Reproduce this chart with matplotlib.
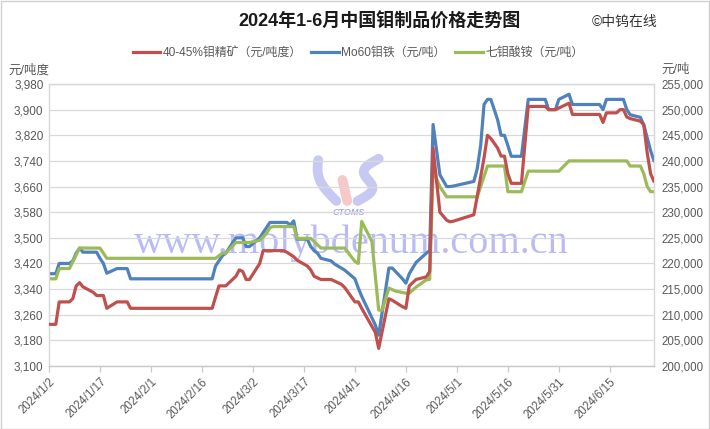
import matplotlib
matplotlib.use("Agg")
import matplotlib.pyplot as plt
import pandas as pd
import numpy as np
from matplotlib.lines import Line2D

# ---------------- data ----------------
red_dates = ["2024-01-02", "2024-01-04", "2024-01-05", "2024-01-08", "2024-01-09", "2024-01-10",
             "2024-01-11", "2024-01-12", "2024-01-15", "2024-01-16", "2024-01-18", "2024-01-19",
             "2024-01-22", "2024-01-25", "2024-01-26",
             "2024-02-19", "2024-02-21", "2024-02-23", "2024-02-26", "2024-02-27", "2024-02-28",
             "2024-02-29",
             "2024-03-01", "2024-03-04", "2024-03-05", "2024-03-11", "2024-03-12", "2024-03-14",
             "2024-03-15", "2024-03-18", "2024-03-19", "2024-03-20", "2024-03-21", "2024-03-22",
             "2024-03-25", "2024-03-26", "2024-03-27", "2024-03-28", "2024-03-29",
             "2024-04-01", "2024-04-02", "2024-04-03", "2024-04-07", "2024-04-08", "2024-04-11",
             "2024-04-12", "2024-04-15", "2024-04-16", "2024-04-17", "2024-04-18", "2024-04-19",
             "2024-04-22", "2024-04-23", "2024-04-24", "2024-04-26", "2024-04-28", "2024-04-29",
             "2024-04-30",
             "2024-05-06", "2024-05-07", "2024-05-08", "2024-05-09", "2024-05-10", "2024-05-11",
             "2024-05-13", "2024-05-14", "2024-05-15", "2024-05-16", "2024-05-17", "2024-05-20",
             "2024-05-22", "2024-05-27", "2024-05-28", "2024-05-30", "2024-05-31",
             "2024-06-03", "2024-06-04", "2024-06-12", "2024-06-13", "2024-06-14", "2024-06-17",
             "2024-06-18", "2024-06-19", "2024-06-20", "2024-06-21", "2024-06-24", "2024-06-25",
             "2024-06-26", "2024-06-27", "2024-06-28"]
red_values = [3230, 3230, 3300, 3300, 3310, 3350,
              3360, 3347, 3330, 3320, 3320, 3280,
              3300, 3300, 3280,
              3280, 3350, 3350, 3380, 3400, 3395,
              3370,
              3370, 3420, 3460, 3460, 3455, 3441,
              3430, 3412, 3400, 3380, 3375, 3370,
              3370, 3365, 3360, 3355, 3345,
              3300, 3300, 3280, 3205, 3155, 3310,
              3305, 3285, 3280, 3350, 3360, 3370,
              3378, 3395, 3780, 3580, 3555, 3550,
              3552,
              3572, 3630, 3690, 3750, 3820, 3810,
              3780, 3755, 3755, 3700, 3670, 3670,
              3910, 3910, 3900, 3900, 3905,
              3920, 3885, 3885, 3860, 3890, 3890,
              3900, 3900, 3877, 3872, 3864, 3853,
              3765, 3700, 3676]

blue_dates = ["2024-01-02", "2024-01-04", "2024-01-05", "2024-01-08", "2024-01-09", "2024-01-10",
              "2024-01-11", "2024-01-12", "2024-01-16", "2024-01-17", "2024-01-18", "2024-01-19",
              "2024-01-22", "2024-01-25", "2024-01-26",
              "2024-02-19", "2024-02-20", "2024-02-22", "2024-02-23", "2024-02-26", "2024-02-28",
              "2024-02-29",
              "2024-03-01", "2024-03-04", "2024-03-05", "2024-03-06", "2024-03-07", "2024-03-12",
              "2024-03-13", "2024-03-14", "2024-03-15", "2024-03-18", "2024-03-19", "2024-03-20",
              "2024-03-21", "2024-03-22", "2024-03-25", "2024-03-26", "2024-03-27", "2024-03-28",
              "2024-03-29",
              "2024-04-01", "2024-04-02", "2024-04-03", "2024-04-07", "2024-04-08", "2024-04-11",
              "2024-04-12", "2024-04-15", "2024-04-16", "2024-04-17", "2024-04-18", "2024-04-19",
              "2024-04-22", "2024-04-23", "2024-04-24", "2024-04-26", "2024-04-28", "2024-04-29",
              "2024-04-30",
              "2024-05-06", "2024-05-07", "2024-05-08", "2024-05-09", "2024-05-10", "2024-05-11",
              "2024-05-13", "2024-05-14", "2024-05-15", "2024-05-16", "2024-05-17", "2024-05-20",
              "2024-05-22", "2024-05-27", "2024-05-28", "2024-05-30", "2024-05-31",
              "2024-06-03", "2024-06-04", "2024-06-12", "2024-06-13", "2024-06-14", "2024-06-19",
              "2024-06-20", "2024-06-21", "2024-06-24", "2024-06-25", "2024-06-26", "2024-06-27",
              "2024-06-28"]
blue_values = [218000, 218000, 220000, 220000, 220500, 222000,
               223000, 222200, 222200, 221000, 220000, 218100,
               219000, 219000, 217000,
               217000, 219500, 221500, 222000, 225000, 225000,
               223300,
               223300, 225000, 226000, 227000, 228000, 228000,
               227500, 228300, 224750, 224750, 223300, 222500,
               222000, 221000, 220500, 219900, 219500, 219100,
               218700,
               217000, 215200, 213600, 208000, 206000, 219100,
               219100, 217000, 216150, 218000, 219100, 220200,
               222000, 222500, 247100, 237300, 235000, 235000,
               235100,
               236000, 238500, 243000, 251000, 252000, 252000,
               248000, 245000, 245000, 243000, 240900, 240900,
               252000, 252000, 250000, 250000, 252000,
               253000, 251000, 251000, 250000, 252000, 252000,
               250000, 249000, 248500, 247000, 244500, 242000,
               240000]

green_dates = ["2024-01-02", "2024-01-04", "2024-01-05", "2024-01-08", "2024-01-11", "2024-01-17",
               "2024-01-19",
               "2024-02-20", "2024-02-21", "2024-02-22", "2024-02-23", "2024-02-26",
               "2024-03-01", "2024-03-04", "2024-03-06", "2024-03-07", "2024-03-08", "2024-03-14",
               "2024-03-15", "2024-03-19", "2024-03-22", "2024-03-29",
               "2024-04-01", "2024-04-02", "2024-04-03", "2024-04-06", "2024-04-08", "2024-04-09",
               "2024-04-11", "2024-04-13", "2024-04-16", "2024-04-17", "2024-04-19", "2024-04-22",
               "2024-04-23", "2024-04-24", "2024-04-26", "2024-04-28",
               "2024-05-07", "2024-05-10", "2024-05-15", "2024-05-16", "2024-05-20", "2024-05-22",
               "2024-05-31",
               "2024-06-03", "2024-06-20", "2024-06-21", "2024-06-24", "2024-06-25", "2024-06-26",
               "2024-06-27", "2024-06-28"]
green_values = [217000, 217000, 219000, 219000, 223000, 223000,
                221000,
                221000, 221500, 222000, 222000, 224100,
                224100, 224500, 225900, 227000, 227200, 227200,
                224900, 224900, 223000, 223000,
                220400, 220000, 228200, 224300, 210900, 210900,
                215200, 214600, 214200, 214200, 215400, 216800,
                216900, 238000, 235000, 233000,
                233000, 239000, 239000, 234000, 234000, 238000,
                238000,
                240000, 240000, 239000, 239000, 237500, 235000,
                234000, 234000]

series_labels = ["40-45%钼精矿（元/吨度）", "Mo60钼铁（元/吨）", "七钼酸铵（元/吨）"]
series_colors = ["#C0504D", "#4F81BD", "#9BBB59"]

left_ticks = list(range(3100, 3981, 80))
right_ticks = list(range(200000, 255001, 5000))
x_tick_dates = ["2024-01-02", "2024-01-17", "2024-02-01", "2024-02-16", "2024-03-02", "2024-03-17",
                "2024-04-01", "2024-04-16", "2024-05-01", "2024-05-16", "2024-05-31", "2024-06-15"]

title = "2024年1-6月中国钼制品价格走势图"

# ---------------- figure ----------------
FONT = ["Liberation Sans", "Noto Sans CJK SC", "DejaVu Sans"]
plt.rcParams["font.family"] = FONT

W, H = 710, 429
fig = plt.figure(figsize=(W / 100, H / 100), dpi=100, facecolor="white")
fig.patches.append(plt.Rectangle((0.5 / W, 0.5 / H), 1 - 1.5 / W, 1 - 1.5 / H, transform=fig.transFigure,
                                 fill=False, edgecolor="#d0d0d0", linewidth=1.0))

L, R, T, B = 49, 654, 84, 366
ax = fig.add_axes([L / W, 1 - B / H, (R - L) / W, (B - T) / H])
ax2 = ax.twinx()
ax.set_zorder(2)
ax.patch.set_visible(False)

tick_color = "#595959"
grid_color = "#d9d9d9"

# watermark
ax2.text(0.50, 0.435, "www.molybdenum.com.cn", transform=ax.transAxes, ha="center", va="center",
         fontsize=29, family="Liberation Serif", color="#aeb0f5", alpha=0.85, zorder=0)
ax2.text(0.495, 0.545, "CTOMS", transform=ax.transAxes, ha="center", va="center",
         fontsize=6.5, fontstyle="italic", fontweight="bold", color="#9fa3e8", alpha=0.9, zorder=0)
# logo flames (approximate decoration)
tt = np.linspace(0, 1, 40)
ax2.plot(0.475 - 0.03 * tt - 0.012 * np.sin(np.pi * tt), 0.585 + 0.145 * tt, transform=ax.transAxes,
         color="#b5b7f0", lw=7, alpha=0.75, solid_capstyle="round", zorder=0)
ax2.plot(0.493 - 0.008 * tt, 0.585 + 0.075 * tt, transform=ax.transAxes,
         color="#f4b6b6", lw=7, alpha=0.75, solid_capstyle="round", zorder=0)
ax2.plot(0.51 + 0.035 * tt + 0.015 * np.sin(2 * np.pi * tt), 0.585 + 0.15 * tt, transform=ax.transAxes,
         color="#b5b7f0", lw=7, alpha=0.75, solid_capstyle="round", zorder=0)

lw = 2.3
ax.plot(pd.to_datetime(red_dates), red_values, color=series_colors[0], lw=lw,
        solid_joinstyle="round", solid_capstyle="round", zorder=3)
ax2.plot(pd.to_datetime(blue_dates), blue_values, color=series_colors[1], lw=lw,
         solid_joinstyle="round", solid_capstyle="round", zorder=3)
ax2.plot(pd.to_datetime(green_dates), green_values, color=series_colors[2], lw=lw,
         solid_joinstyle="round", solid_capstyle="round", zorder=3)

# axes limits / ticks
ax.set_ylim(3100, 3980)
ax.set_yticks(left_ticks)
ax.set_yticklabels([f"{v:,}" for v in left_ticks])
ax2.set_ylim(200000, 255000)
ax2.set_yticks(right_ticks)
ax2.set_yticklabels([f"{v:,}" for v in right_ticks])

xt = pd.to_datetime(x_tick_dates)
ax.set_xlim(pd.Timestamp("2024-01-02"), pd.Timestamp("2024-06-28"))
ax.set_xticks(xt)
ax.set_xticklabels([f"{d.year}/{d.month}/{d.day}" for d in xt], rotation=45, ha="right",
                   rotation_mode="anchor")

ax2.yaxis.grid(True, color=grid_color, lw=0.9)
ax2.set_axisbelow(True)

for a in (ax, ax2):
    for s in a.spines.values():
        s.set_color(grid_color)
        s.set_linewidth(0.9)
ax.spines["bottom"].set_color("#c8c8c8")

ax.tick_params(axis="y", length=0, pad=4, labelsize=8.5, labelcolor=tick_color)
ax2.tick_params(axis="y", length=0, pad=5, labelsize=8.3, labelcolor=tick_color)
ax.tick_params(axis="x", length=4, width=0.9, color="#c8c8c8", direction="out", pad=3,
               labelsize=8.3, labelcolor=tick_color)

# texts
fig.text(380 / W, 1 - 22 / H, title, ha="center", va="center", fontsize=13, fontweight="bold",
         color="#1a1a1a")
fig.text(625 / W, 1 - 22 / H, "©中钨在线", ha="center", va="center", fontsize=10, color="#333333")
fig.text(8 / W, 1 - 70 / H, "元/吨度", ha="left", va="center", fontsize=9, color=tick_color)
fig.text(690 / W, 1 - 70 / H, "元/吨", ha="right", va="center", fontsize=9, color=tick_color)

handles = [Line2D([], [], color=c, lw=2.3) for c in series_colors]
fig.legend(handles, series_labels, loc="center", bbox_to_anchor=(358 / W, 1 - 53 / H), ncol=3,
           frameon=False, fontsize=8.6, handlelength=2.3, handletextpad=0.2, columnspacing=0.8,
           labelcolor=tick_color)

fig.savefig("out.png", dpi=100, facecolor="white")
